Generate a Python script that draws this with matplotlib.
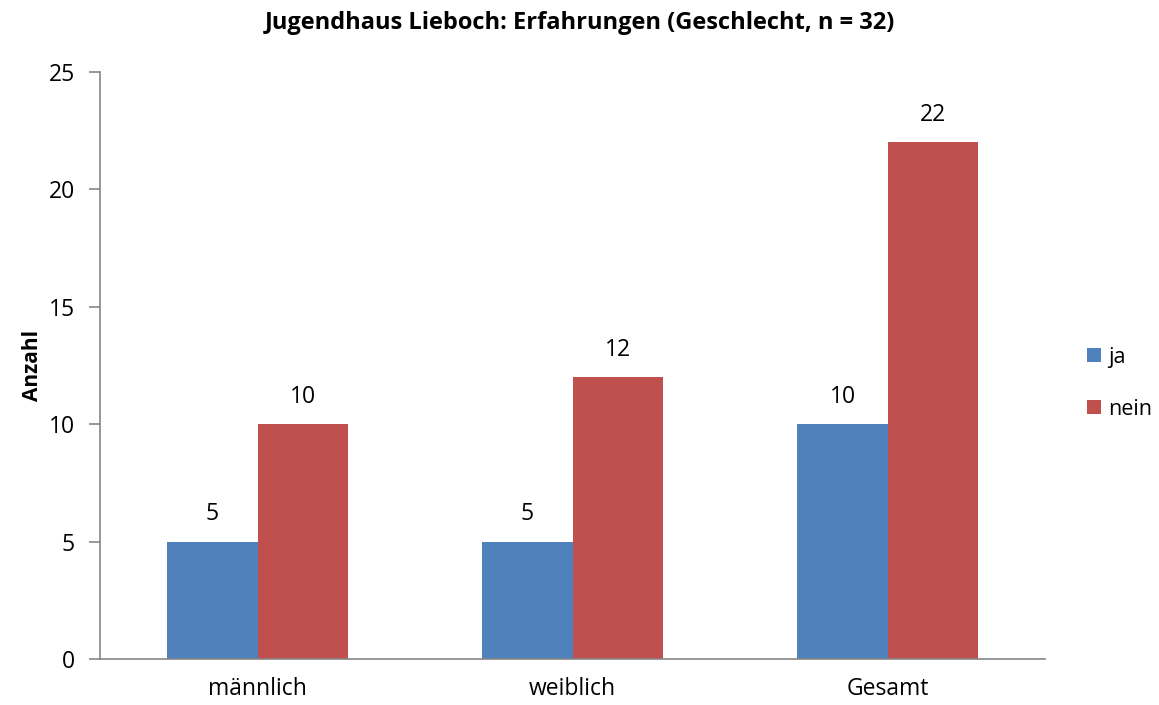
import numpy as np
from matplotlib import pyplot as plt

plt.rcParams['font.family'] = ['Open Sans', 'DejaVu Sans']

categories = ['männlich', 'weiblich', 'Gesamt']
ja = [5, 5, 10]
nein = [10, 12, 22]
yticks = [0, 5, 10, 15, 20, 25]

blue = '#4F81BD'
red = '#C0504D'
axis_grey = '#868686'

fig = plt.figure(figsize=(11.59, 7.05), dpi=100)
ax = fig.add_axes([0.0863, 0.0652, 0.8154, 0.8326])

x = np.arange(len(categories))
w = 0.286
b1 = ax.bar(x - w / 2, ja, w, color=blue, label='ja')
b2 = ax.bar(x + w / 2, nein, w, color=red, label='nein')

for bars, vals in ((b1, ja), (b2, nein)):
    for rect, v in zip(bars, vals):
        ax.text(rect.get_x() + rect.get_width() / 2, v + 0.65, str(v),
                ha='center', va='bottom', fontsize=16.5)

ax.set_xlim(-0.5, 2.5)
ax.set_ylim(0, 25)
ax.set_yticks(yticks)
ax.set_xticks(x)
ax.set_xticklabels(categories, fontsize=16.5)
ax.tick_params(axis='y', labelsize=16.5, length=8, color=axis_grey, width=1.2, pad=10)
ax.tick_params(axis='x', length=0, pad=13)
for s in ('top', 'right'):
    ax.spines[s].set_visible(False)
for s in ('left', 'bottom'):
    ax.spines[s].set_color(axis_grey)
    ax.spines[s].set_linewidth(1.2)

ax.set_ylabel('Anzahl', fontsize=15, fontweight='bold', labelpad=4)
fig.suptitle('Jugendhaus Lieboch: Erfahrungen (Geschlecht, n = 32)',
             fontsize=17, fontweight='bold', x=0.5, y=0.985)

ax.legend(loc='center left', bbox_to_anchor=(1.028, 0.47), frameon=False,
          fontsize=15.5, handlelength=0.65, handleheight=0.65, handletextpad=0.35,
          labelspacing=1.45, borderpad=0.2)

fig.savefig('out.png', dpi=100)
